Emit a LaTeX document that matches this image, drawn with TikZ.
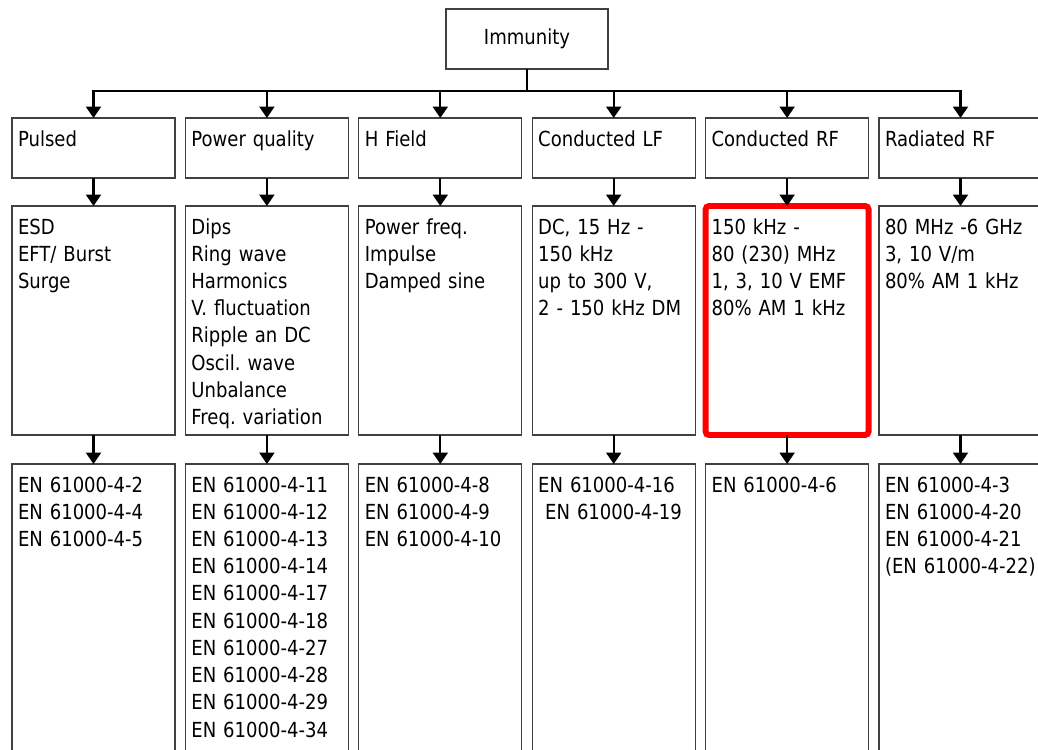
\documentclass[tikz,border=0pt]{standalone}
\usepackage{fontspec}
\setmainfont{DejaVu Sans}[FakeStretch=0.87]
\usepackage{tikz}
\usetikzlibrary{arrows.meta, positioning}
\frenchspacing

\begin{document}
\begin{tikzpicture}[
    node distance=0.56cm and 0.208cm,
    box/.style={rectangle, draw=black!75, line width=0.65pt, fill=white, outer sep=0pt, text width=3.02cm, inner xsep=0.12cm, inner ysep=0.1cm, align=left, text height=0.46cm, text depth=#1, font=\fontsize{11.8}{15.5}\selectfont},
    box/.default=0.54cm,
    root/.style={rectangle, draw=black!75, line width=0.65pt, outer sep=0pt, minimum width=3.24cm, minimum height=1.2cm, inner sep=0pt, font=\fontsize{11.8}{15.5}\selectfont},
    hilite/.style={draw=red, line width=3.4pt, rounded corners=2pt},
    arrow/.style={-{Triangle[width=8.5pt,length=6.5pt]}, line width=1.3pt}
]
\useasboundingbox (0,0) rectangle (20.76,-14.98);
\clip (0,0) rectangle (20.76,-14.98);

\node[root] (immunity) at (10.54,-0.78) {Immunity};

% categories
\node[box, anchor=north west] (pulsed) at (0.24,-2.36) {Pulsed};
\node[box, right=of pulsed] (powerq) {Power quality};
\node[box, right=of powerq] (hfield) {H Field};
\node[box, right=of hfield] (condlf) {Conducted LF};
\node[box, right=of condlf] (condrf) {Conducted RF};
\node[box, right=of condrf] (radrf) {Radiated RF};

% phenomena
\node[box=3.92cm, below=of pulsed] (pulsedlist) {ESD\\EFT/ Burst\\Surge};
\node[box=3.92cm, below=of powerq] (powerqlist) {Dips\\Ring wave\\Harmonics\\V. fluctuation\\Ripple an DC\\Oscil. wave\\Unbalance\\Freq. variation};
\node[box=3.92cm, below=of hfield] (hfieldlist) {Power freq.\\Impulse\\Damped sine};
\node[box=3.92cm, below=of condlf] (condlflist) {DC, 15 Hz -\\150 kHz\\up to 300 V,\\2 - 150 kHz DM};
\node[box=3.92cm, hilite, below=of condrf] (condrflist) {150 kHz -\\80 (230) MHz\\1, 3, 10 V EMF\\80\% AM 1 kHz};
\node[box=3.92cm, below=of radrf] (radrflist) {80 MHz -6 GHz\\3, 10 V/m\\80\% AM 1 kHz};

% standards
\node[box=5.34cm, below=0.58cm of pulsedlist] (pulsedstd) {EN 61000-4-2\\EN 61000-4-4\\EN 61000-4-5};
\node[box=5.34cm, below=0.58cm of powerqlist] (powerqstd) {EN 61000-4-11\\EN 61000-4-12\\EN 61000-4-13\\EN 61000-4-14\\EN 61000-4-17\\EN 61000-4-18\\EN 61000-4-27\\EN 61000-4-28\\EN 61000-4-29\\EN 61000-4-34};
\node[box=5.34cm, below=0.58cm of hfieldlist] (hfieldstd) {EN 61000-4-8\\EN 61000-4-9\\EN 61000-4-10};
\node[box=5.34cm, below=0.58cm of condlflist] (condlfstd) {EN 61000-4-16\\\hspace*{0.14cm}EN 61000-4-19};
\node[box=5.34cm, below=0.58cm of condrflist] (condrfstd) {EN 61000-4-6};
\node[box=5.34cm, below=0.58cm of radrflist] (radrfstd) {EN 61000-4-3\\EN 61000-4-20\\EN 61000-4-21\\(EN 61000-4-22)};

\draw[arrow] (immunity.south) -- ++(0,-0.44) -| (pulsed.north);
\draw[arrow] (immunity.south) -- ++(0,-0.44) -| (powerq.north);
\draw[arrow] (immunity.south) -- ++(0,-0.44) -| (hfield.north);
\draw[arrow] (immunity.south) -- ++(0,-0.44) -| (condlf.north);
\draw[arrow] (immunity.south) -- ++(0,-0.44) -| (condrf.north);
\draw[arrow] (immunity.south) -- ++(0,-0.44) -| (radrf.north);

\draw[arrow] (pulsed) -- (pulsedlist);
\draw[arrow] (powerq) -- (powerqlist);
\draw[arrow] (hfield) -- (hfieldlist);
\draw[arrow] (condlf) -- (condlflist);
\draw[arrow] (condrf) -- (condrflist);
\draw[arrow] (radrf) -- (radrflist);

\draw[arrow] (pulsedlist) -- (pulsedstd);
\draw[arrow] (powerqlist) -- (powerqstd);
\draw[arrow] (hfieldlist) -- (hfieldstd);
\draw[arrow] (condlflist) -- (condlfstd);
\draw[arrow] (condrflist) -- (condrfstd);
\draw[arrow] (radrflist) -- (radrfstd);
\end{tikzpicture}
\end{document}
